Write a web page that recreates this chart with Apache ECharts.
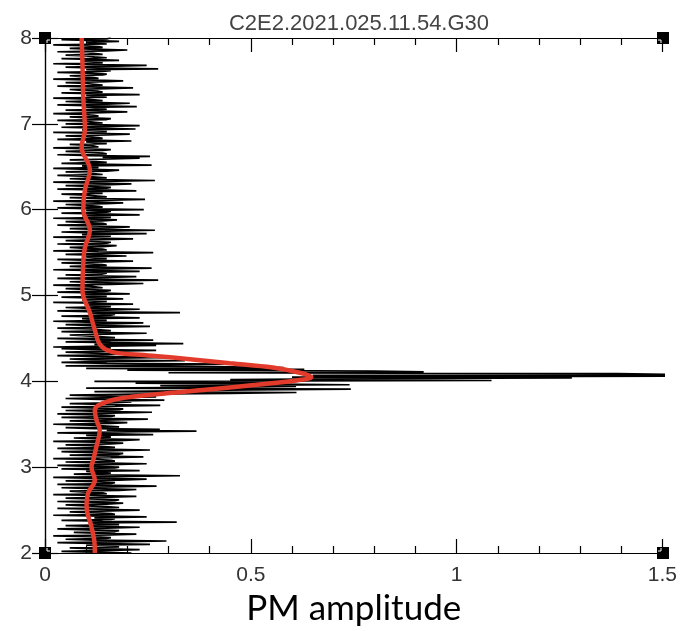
<!DOCTYPE html>
<html>
<head>
<meta charset="utf-8">
<style>
  html, body { margin: 0; padding: 0; background: #fff; }
  #chart { width: 680px; height: 631px; }
</style>
<script src="https://cdn.jsdelivr.net/npm/echarts@6/dist/echarts.min.js"></script>
</head>
<body>
<div id="chart"></div>
<script>
// Spectrum sampled every 0.01 from 2.00 to 8.00 (frequency on the vertical axis)
const freqStart = 2.0;
const freqStep = 0.01;
const amplitude = [
  0.21,0.12,0.04,0.16,0.23,0.11,0.06,0.18,0.17,0.10,0.255,0.14,0.03,0.17,0.295,0.12,0.05,0.15,0.16,0.11,
  0.02,0.16,0.222,0.12,0.07,0.17,0.18,0.10,0.03,0.15,0.23,0.12,0.05,0.18,0.15,0.11,0.32,0.14,0.04,0.16,
  0.17,0.12,0.247,0.14,0.02,0.17,0.16,0.11,0.06,0.16,0.23,0.13,0.03,0.18,0.15,0.10,0.05,0.15,0.19,0.12,
  0.03,0.17,0.18,0.11,0.05,0.16,0.222,0.13,0.02,0.15,0.14,0.10,0.06,0.18,0.222,0.12,0.04,0.16,0.271,0.13,
  0.03,0.16,0.17,0.12,0.05,0.18,0.247,0.13,0.02,0.17,0.328,0.14,0.07,0.16,0.16,0.10,0.23,0.13,0.04,0.17,
  0.18,0.11,0.03,0.16,0.247,0.13,0.05,0.17,0.16,0.12,0.02,0.16,0.239,0.14,0.06,0.18,0.19,0.11,0.04,0.15,
  0.255,0.13,0.03,0.17,0.17,0.11,0.05,0.16,0.19,0.12,0.02,0.18,0.23,0.13,0.07,0.16,0.15,0.10,0.263,0.14,
  0.03,0.17,0.368,0.15,0.279,0.12,0.05,0.18,0.18,0.11,0.02,0.16,0.2,0.13,0.06,0.17,0.25,0.12,0.04,0.16,
  0.17,0.12,0.03,0.16,0.26,0.13,0.05,0.18,0.19,0.11,0.04,0.17,0.28,0.14,0.06,0.16,0.21,0.15,0.29,0.13,
  0.05,0.17,0.27,0.12,0.06,0.22,0.45,0.611,0.12,0.34,0.50,0.743,0.10,0.42,0.61,0.28,0.74,0.50,0.22,0.57,
  0.12,1.085,0.45,0.70,1.28,0.60,1.55,0.65,1.55,1.39,0.30,0.92,0.80,0.20,0.63,0.10,0.58,0.45,0.05,0.30,
  0.45,0.15,0.04,0.13,0.34,0.11,0.06,0.16,0.32,0.12,0.03,0.15,0.18,0.10,0.05,0.14,0.27,0.13,0.04,0.16,
  0.02,0.15,0.27,0.12,0.336,0.16,0.05,0.14,0.263,0.11,0.03,0.17,0.17,0.10,0.06,0.15,0.247,0.12,0.04,0.16,
  0.16,0.11,0.03,0.15,0.255,0.12,0.05,0.16,0.239,0.10,0.02,0.15,0.15,0.09,0.23,0.13,0.04,0.16,0.17,0.11,
  0.328,0.13,0.03,0.15,0.23,0.11,0.05,0.16,0.14,0.10,0.214,0.12,0.02,0.15,0.15,0.09,0.19,0.13,0.04,0.15,
  0.13,0.09,0.206,0.12,0.03,0.15,0.16,0.10,0.05,0.14,0.14,0.11,0.02,0.16,0.239,0.12,0.06,0.15,0.275,0.11,
  0.03,0.15,0.222,0.11,0.05,0.14,0.15,0.09,0.23,0.12,0.02,0.16,0.259,0.11,0.06,0.15,0.14,0.10,0.04,0.14,
  0.214,0.11,0.03,0.15,0.15,0.10,0.198,0.12,0.05,0.16,0.263,0.13,0.02,0.15,0.14,0.10,0.06,0.14,0.174,0.12,
  0.03,0.15,0.16,0.10,0.05,0.14,0.214,0.12,0.02,0.16,0.13,0.09,0.247,0.11,0.04,0.15,0.267,0.13,0.06,0.16,
  0.206,0.11,0.03,0.15,0.14,0.10,0.05,0.14,0.175,0.12,0.02,0.16,0.15,0.09,0.23,0.13,0.04,0.15,0.16,0.10,
  0.24,0.12,0.03,0.14,0.13,0.10,0.05,0.15,0.19,0.11,0.02,0.16,0.243,0.13,0.06,0.15,0.15,0.10,0.04,0.14,
  0.14,0.10,0.222,0.13,0.03,0.15,0.16,0.11,0.05,0.16,0.21,0.12,0.02,0.14,0.267,0.13,0.06,0.15,0.15,0.09,
  0.03,0.14,0.14,0.10,0.05,0.15,0.18,0.11,0.02,0.13,0.13,0.09,0.259,0.12,0.04,0.15,0.15,0.10,0.06,0.16,
  0.23,0.14,0.255,0.11,0.03,0.15,0.14,0.10,0.05,0.14,0.16,0.09,0.02,0.13,0.12,0.11,0.06,0.15,0.15,0.10,
  0.21,0.11,0.03,0.14,0.13,0.10,0.05,0.15,0.206,0.12,0.02,0.15,0.14,0.09,0.22,0.13,0.04,0.15,0.23,0.12,
  0.05,0.14,0.14,0.10,0.03,0.15,0.16,0.11,0.06,0.13,0.12,0.09,0.02,0.14,0.20,0.12,0.05,0.15,0.13,0.10,
  0.223,0.12,0.03,0.15,0.206,0.11,0.05,0.14,0.12,0.09,0.02,0.15,0.15,0.10,0.23,0.13,0.04,0.14,0.13,0.09,
  0.06,0.15,0.214,0.11,0.03,0.14,0.14,0.10,0.05,0.15,0.19,0.12,0.02,0.13,0.12,0.09,0.06,0.14,0.15,0.10,
  0.03,0.14,0.16,0.10,0.275,0.13,0.05,0.15,0.247,0.12,0.02,0.14,0.13,0.09,0.18,0.11,0.04,0.15,0.12,0.10,
  0.05,0.14,0.14,0.10,0.03,0.15,0.20,0.11,0.06,0.14,0.13,0.09,0.02,0.15,0.15,0.10,0.18,0.12,0.04,0.15,
  0.16
];

// Smoothed amplitude envelope (red curve)
const smoothFreq = [2.00, 2.07, 2.30, 2.54, 2.70, 2.85, 3.00, 3.08, 3.24, 3.43,
  3.55, 3.67, 3.74, 3.80, 3.85, 3.90, 3.96, 4.01, 4.05, 4.10,
  4.16, 4.21, 4.27, 4.31, 4.34, 4.42, 4.60, 4.80, 5.06, 5.38,
  5.56, 5.76, 6.00, 6.23, 6.46, 6.73, 6.93, 7.31, 7.71, 8.00];
const smoothAmp = [0.121, 0.121, 0.113, 0.101, 0.105, 0.121, 0.113, 0.117, 0.125, 0.133,
  0.125, 0.121, 0.138, 0.182, 0.271, 0.384, 0.514, 0.611, 0.647, 0.619,
  0.553, 0.449, 0.328, 0.231, 0.165, 0.135, 0.121, 0.109, 0.091, 0.093,
  0.097, 0.109, 0.093, 0.097, 0.109, 0.089, 0.097, 0.093, 0.091, 0.089];

const xTicks = [0, 0.5, 1, 1.5];
const yTicks = [2, 3, 4, 5, 6, 7, 8];
const titleText = 'C2E2.2021.025.11.54.G30';
const xName = 'PM amplitude';

const GRID = { left: 45, top: 38, right: 17, bottom: 78 };
const W = 680, H = 631;

const noiseData = amplitude.map((a, i) => [a, +(freqStart + i * freqStep).toFixed(2)]);
const envelopeData = smoothAmp.map((a, i) => [a, smoothFreq[i]]);

const labelFont = { fontFamily: 'Liberation Sans, Arial, sans-serif', fontSize: 21, color: '#333' };
const tickStyle = { color: '#000', width: 1.2 };

function xLabel(v) {
  return xTicks.indexOf(+v.toFixed(2)) >= 0 ? String(+v.toFixed(2)) : '';
}

const chart = echarts.init(document.getElementById('chart'), null, { renderer: 'canvas' });

// Corner markers of the frame, each with a thin white notch where the frame lines meet
const gx0 = GRID.left, gx1 = W - GRID.right, gy0 = GRID.top, gy1 = H - GRID.bottom;
const sq = 12;
const cornerPts = [[gx0, gy0, 1, 1], [gx1, gy0, -1, 1], [gx0, gy1, 1, -1], [gx1, gy1, -1, -1]];
const corners = [];
cornerPts.forEach(c => {
  corners.push({
    type: 'rect',
    shape: { x: c[0] - sq / 2, y: c[1] - sq / 2, width: sq, height: sq },
    style: { fill: '#000' },
    z: 1
  });
  corners.push({
    type: 'polyline',
    shape: { points: [[c[0] + c[2] * 2, c[1] + c[3] * 5], [c[0] + c[2] * 2, c[1] + c[3] * 2], [c[0] + c[2] * 5, c[1] + c[3] * 2]] },
    style: { stroke: '#fff', lineWidth: 1, fill: null },
    z: 2
  });
});

chart.setOption({
  animation: false,
  backgroundColor: '#fff',
  title: {
    text: titleText,
    left: (gx0 + gx1) / 2,
    textAlign: 'center',
    top: 8,
    textStyle: { fontFamily: 'Liberation Sans, Arial, sans-serif', fontSize: 22, fontWeight: 'normal', color: '#444' }
  },
  grid: GRID,
  graphic: corners,
  xAxis: [{
    type: 'value', min: 0, max: 1.5, interval: 0.5,
    name: xName, nameLocation: 'middle', nameGap: 37,
    nameTextStyle: { fontFamily: 'Lato, Open Sans, sans-serif', fontSize: 35, color: '#000' },
    axisLine: { show: true, lineStyle: { color: '#000', width: 1.2 } },
    axisTick: { show: true, inside: true, length: 14, lineStyle: tickStyle },
    minorTick: { show: true, splitNumber: 5, length: 7, lineStyle: tickStyle },
    axisLabel: Object.assign({ margin: 12, formatter: xLabel }, labelFont),
    splitLine: { show: false }
  }, {
    type: 'value', min: 0, max: 1.5, interval: 0.5, position: 'top',
    axisLine: { show: true, lineStyle: { color: '#000', width: 1.2 } },
    axisTick: { show: true, inside: true, length: 14, lineStyle: tickStyle },
    minorTick: { show: true, splitNumber: 5, length: 7, lineStyle: tickStyle },
    axisLabel: { show: false },
    splitLine: { show: false }
  }],
  yAxis: [{
    type: 'value', min: yTicks[0], max: yTicks[yTicks.length - 1], interval: 1,
    axisLine: { show: true, lineStyle: { color: '#000', width: 1.2 } },
    axisTick: { show: true, inside: true, length: 13, lineStyle: tickStyle },
    axisLabel: Object.assign({ margin: 13 }, labelFont),
    splitLine: { show: false }
  }, {
    type: 'value', min: yTicks[0], max: yTicks[yTicks.length - 1], interval: 1, position: 'right',
    axisLine: { show: true, lineStyle: { color: '#000', width: 1.2 } },
    axisTick: { show: true, inside: true, length: 13, lineStyle: tickStyle },
    axisLabel: { show: false },
    splitLine: { show: false }
  }],
  series: [{
    name: 'raw',
    type: 'line',
    xAxisIndex: 0, yAxisIndex: 0,
    data: noiseData,
    showSymbol: false,
    symbol: 'none',
    clip: true,
    lineStyle: { color: '#000', width: 1.7, join: 'bevel' },
    z: 2
  }, {
    name: 'smoothed',
    type: 'line',
    xAxisIndex: 0, yAxisIndex: 0,
    data: envelopeData,
    showSymbol: false,
    symbol: 'none',
    smooth: 0.4,
    clip: true,
    lineStyle: { color: '#e23b2c', width: 4.5 },
    z: 3
  }]
});
</script>
</body>
</html>
